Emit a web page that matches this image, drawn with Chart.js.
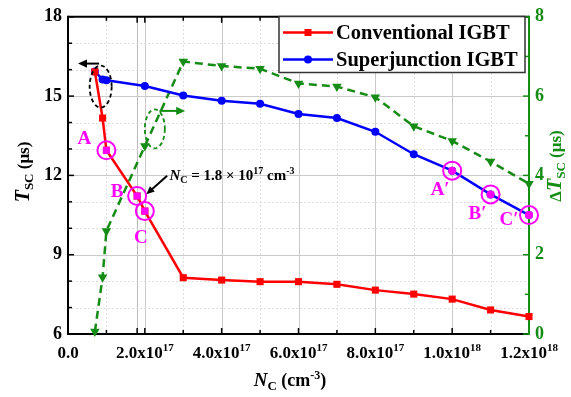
<!DOCTYPE html>
<html>
<head>
<meta charset="utf-8">
<script src="https://cdn.jsdelivr.net/npm/chart.js@4.4.1/dist/chart.umd.min.js"></script>
<style>
  html, body { margin: 0; padding: 0; background: #fff; }
  #wrap { width: 571px; height: 397px; position: relative; }
</style>
</head>
<body>
<div id="wrap"><canvas id="chart"></canvas></div>
<script>
// Doping concentration N_C (cm^-3) of each series
const convNc = [7e16, 9e16, 1e17, 1.8e17, 2e17, 3e17, 4e17, 5e17, 6e17, 7e17, 8e17, 9e17, 1e18, 1.1e18, 1.2e18];
const sjNc = [7e16, 9e16, 1e17, 2e17, 3e17, 4e17, 5e17, 6e17, 7e17, 8e17, 9e17, 1e18, 1.1e18, 1.2e18];

// Short-circuit withstand time T_SC (us), left axis
const convTsc = [15.92, 14.17, 12.95, 11.22, 10.65, 8.13, 8.04, 7.98, 7.98, 7.88, 7.66, 7.51, 7.32, 6.91, 6.66];
const sjTsc = [15.93, 15.63, 15.60, 15.38, 15.02, 14.82, 14.71, 14.32, 14.17, 13.65, 12.80, 12.18, 11.28, 10.50];

// Delta T_SC (us), right axis (same N_C as superjunction)
const deltaTsc = [0.06, 1.43, 2.60, 4.74, 6.87, 6.76, 6.69, 6.32, 6.24, 5.97, 5.24, 4.87, 4.35, 3.79];

// Tick labels
const xTickValues = [0, 2e17, 4e17, 6e17, 8e17, 1e18, 1.2e18];
const xTickMant = ['0.0', '2.0x10', '4.0x10', '6.0x10', '8.0x10', '1.0x10', '1.2x10'];
const xTickExp = ['', '17', '17', '17', '17', '18', '18'];
const yTicks = [6, 9, 12, 15, 18];
const y2Ticks = [0, 2, 4, 6, 8];

// Marked points (index into the series) and their labels
const convMarked = [2, 3, 4];
const convMarkNames = ['A', 'B', 'C'];
const sjMarked = [11, 12, 13];
const sjMarkNames = ['A\u2032', 'B\u2032', 'C\u2032'];
// label offsets from the marked point, in pixels
const convMarkOffset = [[-22, -11], [-20, -4], [-4, 27]];
const sjMarkOffset = [[-12, 19], [-13, 20], [-20, 5]];

const RED = '#ff0000';
const BLUE = '#0000ff';
const GREEN = '#158c15';
const PINK = '#ff00ff';
const SERIF = '"Liberation Serif", "Times New Roman", serif';

const pts = (xs, ys) => xs.map((v, i) => ({ x: v, y: ys[i] }));

function line(ctx, x1, y1, x2, y2) {
  ctx.beginPath();
  ctx.moveTo(x1, y1);
  ctx.lineTo(x2, y2);
  ctx.stroke();
}

function arrow(ctx, x1, y1, x2, y2, color, head) {
  const ang = Math.atan2(y2 - y1, x2 - x1);
  ctx.strokeStyle = color;
  ctx.fillStyle = color;
  ctx.lineWidth = 2;
  ctx.setLineDash([]);
  line(ctx, x1, y1, x2 - Math.cos(ang) * head * 0.8, y2 - Math.sin(ang) * head * 0.8);
  ctx.beginPath();
  ctx.moveTo(x2, y2);
  ctx.lineTo(x2 - head * Math.cos(ang) + head * 0.45 * Math.sin(ang), y2 - head * Math.sin(ang) - head * 0.45 * Math.cos(ang));
  ctx.lineTo(x2 - head * Math.cos(ang) - head * 0.45 * Math.sin(ang), y2 - head * Math.sin(ang) + head * 0.45 * Math.cos(ang));
  ctx.closePath();
  ctx.fill();
}

// draw a run of text pieces (font, offset) starting at x, baseline y
function richText(ctx, parts, x, y, align, rot, color) {
  ctx.save();
  ctx.translate(x, y);
  ctx.rotate(rot || 0);
  ctx.fillStyle = color;
  ctx.textBaseline = 'alphabetic';
  ctx.textAlign = 'left';
  let w = 0;
  parts.forEach(p => { ctx.font = p.f; p.w = ctx.measureText(p.t).width; w += p.w; });
  let xx = align === 'center' ? -w / 2 : 0;
  parts.forEach(p => { ctx.font = p.f; ctx.fillText(p.t, xx, p.dy || 0); xx += p.w; });
  ctx.restore();
}

const decorPlugin = {
  id: 'decor',
  beforeDatasetsDraw(chart) {
    const { ctx, chartArea: a, scales: { x, y, y2 } } = chart;
    const px = v => x.getPixelForValue(v);
    const py = v => y.getPixelForValue(v);
    ctx.save();
    ctx.lineWidth = 1;
    // vertical grid every 1e17 (solid at labelled ticks) plus guide at 1.8e17
    for (let k = 1; k <= 11; k++) {
      const gx = Math.round(px(k * 1e17)) + 0.5;
      ctx.strokeStyle = k % 2 ? '#dedede' : '#cacaca';
      ctx.setLineDash(k % 2 ? [2, 2] : []);
      line(ctx, gx, a.top, gx, a.bottom);
    }
    ctx.setLineDash([]);
    ctx.strokeStyle = '#bdbdbd';
    const g = Math.round(px(1.8e17)) + 0.5;
    line(ctx, g, a.top, g, a.bottom);
    // horizontal grid every 1 us (solid at labelled ticks)
    for (let v = 7; v <= 17; v++) {
      const gy = Math.round(py(v)) + 0.5;
      ctx.strokeStyle = v % 3 ? '#dedede' : '#cacaca';
      ctx.setLineDash(v % 3 ? [2, 2] : []);
      line(ctx, a.left, gy, a.right, gy);
    }
    ctx.setLineDash([]);

    // frame and inward ticks
    ctx.lineWidth = 2;
    ctx.strokeStyle = '#000';
    line(ctx, a.left, a.top, a.right, a.top);
    line(ctx, a.left, a.bottom, a.right, a.bottom);
    line(ctx, a.left, a.top - 1, a.left, a.bottom + 1);
    ctx.lineWidth = 1.5;
    for (let v = 6; v <= 18; v++) {
      const t = py(v);
      line(ctx, a.left, t, a.left + (v % 3 ? 4 : 6), t);
    }
    const xt = [];
    for (let k = 0; k <= 12; k++) xt.push([k * 1e17, k % 2 ? 4 : 6]);
    xt.push([1.8e17, 6]);
    xt.forEach(([v, len]) => {
      const t = px(v);
      line(ctx, t, a.bottom, t, a.bottom - len);
      line(ctx, t, a.top, t, a.top + len);
    });
    ctx.strokeStyle = GREEN;
    ctx.lineWidth = 2;
    line(ctx, a.right, a.top - 1, a.right, a.bottom + 1);
    ctx.lineWidth = 1.5;
    for (let v = 0; v <= 8; v++) {
      const t = y2.getPixelForValue(v);
      line(ctx, a.right, t, a.right - (v % 2 ? 4 : 6), t);
    }
    ctx.restore();
  },
  afterDatasetsDraw(chart) {
    const { ctx, scales: { x, y } } = chart;
    const px = v => x.getPixelForValue(v);
    const py = v => y.getPixelForValue(v);
    ctx.save();
    ctx.setLineDash([]);

    // x tick labels with superscript exponent
    xTickValues.forEach((v, i) => {
      richText(ctx, [
        { t: xTickMant[i], f: 'bold 17px ' + SERIF },
        { t: xTickExp[i], f: 'bold 11px ' + SERIF, dy: -7 }
      ], px(v), 358, 'center', 0, '#000');
    });

    // axis titles
    richText(ctx, [
      { t: 'N', f: 'italic bold 19px ' + SERIF },
      { t: 'C', f: 'bold 13px ' + SERIF, dy: 4 },
      { t: ' (cm', f: 'bold 18px ' + SERIF },
      { t: '-3', f: 'bold 12px ' + SERIF, dy: -7 },
      { t: ')', f: 'bold 18px ' + SERIF }
    ], 290, 386, 'center', 0, '#000');
    richText(ctx, [
      { t: 'T', f: 'italic bold 20px ' + SERIF },
      { t: 'SC', f: 'bold 13px ' + SERIF, dy: 4 },
      { t: ' (\u03bcs)', f: 'bold 17px ' + SERIF }
    ], 28.5, 172, 'center', -Math.PI / 2, '#000');
    richText(ctx, [
      { t: '\u0394', f: 'bold 17px ' + SERIF },
      { t: 'T', f: 'italic bold 20px ' + SERIF },
      { t: 'SC', f: 'bold 13px ' + SERIF, dy: 4 },
      { t: ' (\u03bcs)', f: 'bold 17px ' + SERIF }
    ], 561, 166, 'center', -Math.PI / 2, GREEN);

    // point labels A, B, C and A', B', C'
    ctx.fillStyle = PINK;
    ctx.font = 'bold 19px ' + SERIF;
    ctx.textAlign = 'center';
    ctx.textBaseline = 'middle';
    convMarked.forEach((idx, i) => {
      ctx.fillText(convMarkNames[i], px(convNc[idx]) + convMarkOffset[i][0], py(convTsc[idx]) + convMarkOffset[i][1]);
    });
    sjMarked.forEach((idx, i) => {
      ctx.fillText(sjMarkNames[i], px(sjNc[idx]) + sjMarkOffset[i][0], py(sjTsc[idx]) + sjMarkOffset[i][1]);
    });

    // dashed ellipses with axis arrows
    ctx.lineWidth = 1.8;
    ctx.setLineDash([4, 3]);
    ctx.strokeStyle = '#000';
    ctx.beginPath();
    ctx.ellipse(px(0.85e17), py(15.36), 11, 21, 0, 0, Math.PI * 2);
    ctx.stroke();
    ctx.strokeStyle = GREEN;
    ctx.beginPath();
    ctx.ellipse(px(2.26e17), py(13.76), 10, 19.5, 0, 0, Math.PI * 2);
    ctx.stroke();
    arrow(ctx, px(0.81e17), py(16.23), px(0.26e17), py(16.23), '#000', 9);
    arrow(ctx, px(2.38e17), py(14.44), px(3.05e17), py(14.44), GREEN, 9);

    // N_C annotation for point B
    arrow(ctx, px(2.58e17), py(11.99), px(2.04e17), py(11.29), '#000', 8);
    richText(ctx, [
      { t: 'N', f: 'italic bold 15px ' + SERIF },
      { t: 'C', f: 'bold 10px ' + SERIF, dy: 3 },
      { t: ' = 1.8 \u00d7 10', f: 'bold 15px ' + SERIF },
      { t: '17', f: 'bold 10px ' + SERIF, dy: -6 },
      { t: ' cm', f: 'bold 15px ' + SERIF },
      { t: '-3', f: 'bold 10px ' + SERIF, dy: -6 }
    ], px(2.64e17), py(11.82), 'left', 0, '#000');

    // legend
    const lx = 279, ly = 16.5, lw = 246, lh = 56;
    ctx.setLineDash([]);
    ctx.fillStyle = '#fff';
    ctx.fillRect(lx, ly, lw, lh);
    ctx.strokeStyle = '#333';
    ctx.lineWidth = 1.5;
    ctx.strokeRect(lx, ly, lw, lh);
    const items = [
      { name: 'Conventional IGBT', color: RED, shape: 'rect' },
      { name: 'Superjunction IGBT', color: BLUE, shape: 'circle' }
    ];
    items.forEach((it, i) => {
      const yy = ly + 16 + i * 27;
      ctx.strokeStyle = it.color;
      ctx.fillStyle = it.color;
      ctx.lineWidth = 2.5;
      line(ctx, lx + 4, yy, lx + 54, yy);
      if (it.shape === 'rect') {
        ctx.fillRect(lx + 29 - 3.5, yy - 3.5, 7, 7);
      } else {
        ctx.beginPath();
        ctx.arc(lx + 29, yy, 4, 0, Math.PI * 2);
        ctx.fill();
      }
      ctx.fillStyle = '#000';
      ctx.font = 'bold 20.5px ' + SERIF;
      ctx.textAlign = 'left';
      ctx.textBaseline = 'middle';
      ctx.fillText(it.name, lx + 57, yy + 1);
    });
    ctx.restore();
  }
};

const ctx = document.getElementById('chart').getContext('2d');
new Chart(ctx, {
  type: 'line',
  data: {
    datasets: [
      {
        label: 'rings',
        data: [
          ...convMarked.map(i => ({ x: convNc[i], y: convTsc[i] })),
          ...sjMarked.map(i => ({ x: sjNc[i], y: sjTsc[i] }))
        ],
        showLine: false,
        clip: false,
        pointRadius: 9,
        pointBorderWidth: 2,
        pointBorderColor: PINK,
        pointBackgroundColor: 'rgba(0,0,0,0)',
        yAxisID: 'y'
      },
      {
        label: 'marked conventional',
        data: convMarked.map(i => ({ x: convNc[i], y: convTsc[i] })),
        showLine: false,
        clip: false,
        pointStyle: 'rect',
        pointRadius: 5,
        pointBorderWidth: 0,
        pointBackgroundColor: PINK,
        yAxisID: 'y'
      },
      {
        label: 'marked superjunction',
        data: sjMarked.map(i => ({ x: sjNc[i], y: sjTsc[i] })),
        showLine: false,
        clip: false,
        pointRadius: 4,
        pointBorderWidth: 0,
        pointBackgroundColor: PINK,
        yAxisID: 'y'
      },
      {
        label: 'Conventional IGBT',
        data: pts(convNc, convTsc),
        clip: false,
        borderColor: RED,
        backgroundColor: RED,
        borderWidth: 2.5,
        pointStyle: 'rect',
        pointRadius: 5,
        pointBorderWidth: 0,
        yAxisID: 'y'
      },
      {
        label: 'Superjunction IGBT',
        data: pts(sjNc, sjTsc),
        clip: false,
        borderColor: BLUE,
        backgroundColor: BLUE,
        borderWidth: 2.5,
        pointRadius: 4,
        pointBorderWidth: 0,
        yAxisID: 'y'
      },
      {
        label: 'Delta T_SC',
        data: pts(sjNc, deltaTsc),
        clip: false,
        borderColor: GREEN,
        backgroundColor: GREEN,
        borderWidth: 2.5,
        borderDash: [8, 5],
        pointStyle: 'triangle',
        rotation: 180,
        pointRadius: 5.5,
        pointBorderWidth: 0,
        yAxisID: 'y2'
      }
    ]
  },
  options: {
    responsive: true,
    maintainAspectRatio: false,
    animation: false,
    layout: { padding: { top: 12, left: 0, right: 0, bottom: 0 } },
    plugins: {
      legend: { display: false },
      tooltip: { enabled: false }
    },
    scales: {
      x: {
        type: 'linear',
        min: 0,
        max: 1.2e18,
        grid: { display: false, drawTicks: false },
        border: { display: false },
        ticks: { display: false },
        afterFit: s => { s.height = 63; }
      },
      y: {
        position: 'left',
        min: 6,
        max: 18,
        grid: { display: false, drawTicks: false },
        border: { display: false },
        afterBuildTicks: s => { s.ticks = yTicks.map(v => ({ value: v })); },
        ticks: { color: '#000', padding: 6, font: { family: SERIF, size: 18, weight: 'bold' } },
        afterFit: s => { s.width = 68; }
      },
      y2: {
        position: 'right',
        min: 0,
        max: 8,
        grid: { display: false, drawTicks: false },
        border: { display: false },
        afterBuildTicks: s => { s.ticks = y2Ticks.map(v => ({ value: v })); },
        ticks: { color: GREEN, padding: 6, font: { family: SERIF, size: 18, weight: 'bold' } },
        afterFit: s => { s.width = 42; }
      }
    }
  },
  plugins: [decorPlugin]
});
</script>
</body>
</html>
